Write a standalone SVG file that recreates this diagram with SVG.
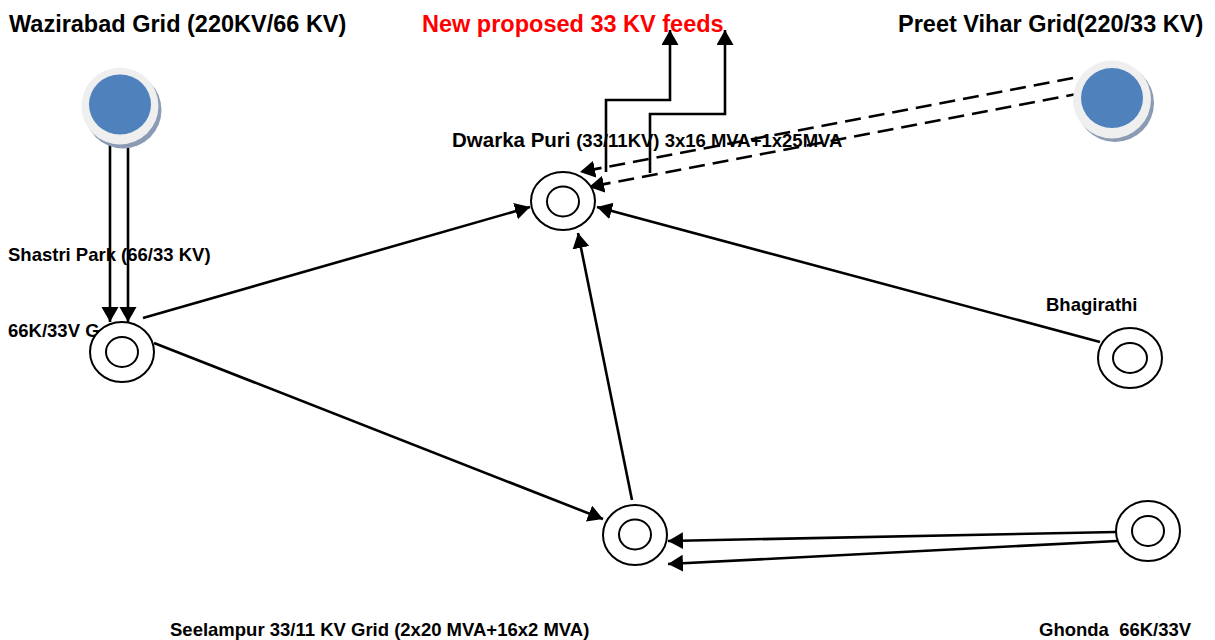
<svg xmlns="http://www.w3.org/2000/svg" width="1215" height="640" viewBox="0 0 1215 640">
<style>
text{font-family:"Liberation Sans",Arial,sans-serif;font-weight:bold;fill:#000;white-space:pre}
.title{font-size:23.5px}
.red{fill:#ff0000}
.lbl{font-size:18.5px}
.ln{fill:none;stroke:#000;stroke-width:2.6;marker-end:url(#ah)}
.dash{stroke-dasharray:16 8}
.ring{fill:#fff;stroke:#000;stroke-width:2}
.shadow{fill:#8a9bb3}
.halo{fill:#efefef}
.blue{fill:#4f81bd}
</style>
<defs>
<marker id="ah" markerUnits="userSpaceOnUse" markerWidth="17" markerHeight="18" refX="15" refY="8.5" orient="auto" viewBox="0 0 17 18">
<path d="M0,0 L15,8.5 L0,17 z" fill="#000"/>
</marker>
</defs>

<g id="connectors">
<path class="ln" d="M110,140 V322"/>
<path class="ln" d="M128,140 V322"/>
<path class="ln" d="M143,318 L530,207"/>
<path class="ln" d="M154,343 L603,519"/>
<path class="ln" d="M632,500 L578,233"/>
<path class="ln" d="M1100,342 L597,207"/>
<path class="ln" d="M1116,532 L668,541"/>
<path class="ln" d="M1117,541 L668,564"/>
<path class="ln dash" d="M1073,78 L580,172"/>
<path class="ln dash" d="M1082,93 L589,187"/>
<path class="ln" d="M606,172 V100 H670 V30"/>
<path class="ln" d="M650,173 V114 H725 V30"/>
</g>

<g id="title-feeds">
<text class="title red" x="422" y="32">New proposed 33 KV feeds</text>
</g>

<g id="wazirabad">
<text class="title" x="9" y="32">Wazirabad Grid (220KV/66 KV)</text>
<circle class="shadow" cx="123" cy="110" r="38.5"/>
<circle class="halo" cx="120" cy="106" r="38.5"/>
<ellipse class="blue" cx="120" cy="104.5" rx="31" ry="30"/>
</g>

<g id="preet-vihar">
<text class="title" x="898" y="32">Preet Vihar Grid(220/33 KV)</text>
<circle class="shadow" cx="1115" cy="103" r="39"/>
<circle class="halo" cx="1112" cy="99.5" r="39"/>
<ellipse class="blue" cx="1112" cy="98" rx="31" ry="30"/>
</g>

<g id="dwarka-puri">
<text x="452" y="147"><tspan style="font-size:20.5px">Dwarka Puri </tspan><tspan style="font-size:18.5px">(33/11KV) 3x16 MVA+1x25MVA</tspan></text>
<ellipse class="ring" cx="563" cy="201" rx="32" ry="29"/>
<ellipse class="ring" cx="563" cy="201.5" rx="16" ry="15"/>
</g>

<g id="shastri-park">
<text class="lbl" x="8" y="261">Shastri Park (66/33 KV)</text>
<text class="lbl" x="8" y="337">66K/33V G</text>
<ellipse class="ring" cx="122" cy="352" rx="32" ry="30"/>
<ellipse class="ring" cx="122" cy="352" rx="16" ry="15"/>
</g>

<g id="bhagirathi">
<text class="lbl" x="1046" y="311">Bhagirathi</text>
<ellipse class="ring" cx="1130" cy="358" rx="32" ry="30"/>
<ellipse class="ring" cx="1130" cy="358" rx="17" ry="15"/>
</g>

<g id="seelampur">
<text class="lbl" x="170" y="636">Seelampur 33/11 KV Grid (2x20 MVA+16x2 MVA)</text>
<ellipse class="ring" cx="635" cy="535" rx="32" ry="30"/>
<ellipse class="ring" cx="635" cy="534.5" rx="16" ry="15"/>
</g>

<g id="ghonda">
<text class="lbl" x="1039" y="636">Ghonda  66K/33V</text>
<ellipse class="ring" cx="1148" cy="531" rx="32" ry="30"/>
<ellipse class="ring" cx="1148" cy="531" rx="16" ry="15"/>
</g>
</svg>
